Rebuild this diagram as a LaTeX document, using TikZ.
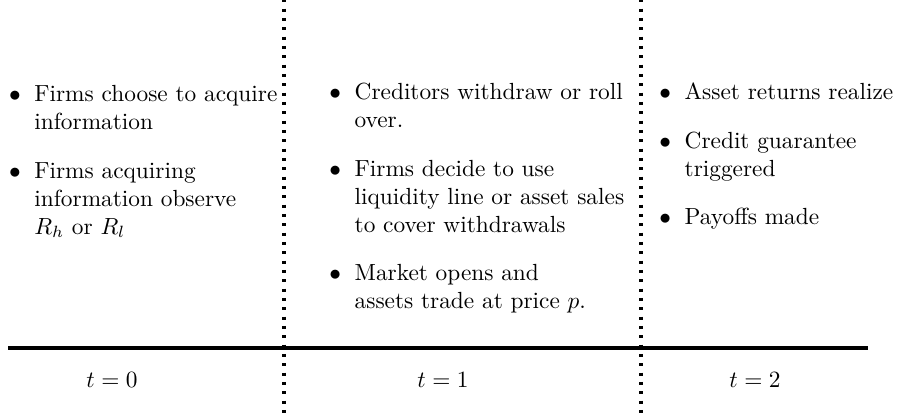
\documentclass[tikz,border=0pt]{standalone}
\begin{document}
\begin{tikzpicture}[x=0.42857pt, y=-0.42857pt,
  col/.style={anchor=base west, inner sep=0pt, align=left},
  tlabel/.style={anchor=base, inner sep=0pt},
  divider/.style={line width=1.3pt, dash pattern=on 1.3pt off 2.7pt, dash phase=0.3pt},
  axisline/.style={line width=1.3pt}]
\useasboundingbox (0,0) rectangle (897,418);
% dividers
\coordinate (d1t) at (284,0);
\coordinate (d1b) at (284,418);
\coordinate (d2t) at (641,0);
\coordinate (d2b) at (641,418);
\draw[divider] (d1t) -- (d1b);
\draw[divider] (d2t) -- (d2b);
% time axis
\coordinate (axl) at (8,348);
\coordinate (axr) at (868,348);
\draw[axisline] (axl) -- (axr);
% columns
\node[col] (c0) at (8.7,102) {\begin{tabular}[t]{@{}c@{\hspace{5.8pt}}l@{}}
$\bullet$ & Firms choose to acquire\\
 & information\\[8.6pt]
$\bullet$ & Firms acquiring\\
 & information observe\\
 & $R_h$ or $R_l$
\end{tabular}};
\node[col] (c1) at (329,100) {\begin{tabular}[t]{@{}c@{\hspace{5.8pt}}l@{}}
$\bullet$ & Creditors withdraw or roll\\
 & over.\\[8.6pt]
$\bullet$ & Firms decide to use\\
 & liquidity line or asset sales\\
 & to cover withdrawals\\[8.6pt]
$\bullet$ & Market opens and\\
 & assets trade at price $p$.
\end{tabular}};
\node[col] (c2) at (659,100) {\begin{tabular}[t]{@{}c@{\hspace{5.8pt}}l@{}}
$\bullet$ & Asset returns realize\\[8.6pt]
$\bullet$ & Credit guarantee\\
 & triggered\\[8.6pt]
$\bullet$ & Payoffs made
\end{tabular}};
% time labels
\node[tlabel] (t0) at (112,388) {$t=0$};
\node[tlabel] (t1) at (443,388) {$t=1$};
\node[tlabel] (t2) at (755,388) {$t=2$};
\end{tikzpicture}
\end{document}
